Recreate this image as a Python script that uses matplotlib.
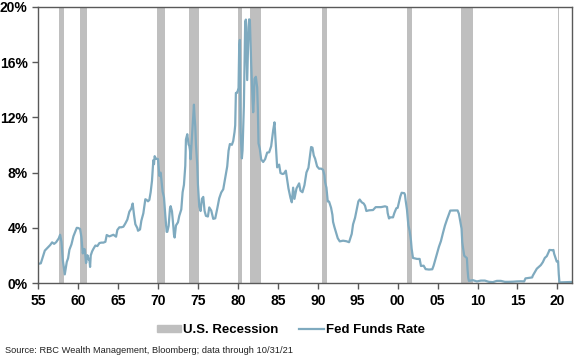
import matplotlib.pyplot as plt
import matplotlib.patches as mpatches
import matplotlib.lines as mlines
import pandas as pd

# Fed funds rate (month, % level)
months = [
    "1954-07", "1955-01", "1955-05", "1955-08", "1955-11", "1956-01", "1956-04", "1956-07", "1956-10",
    "1957-01", "1957-04", "1957-08", "1957-10", "1957-12", "1958-02", "1958-05", "1958-06", "1958-08",
    "1958-10", "1958-12", "1959-03", "1959-06", "1959-09", "1959-11", "1960-01", "1960-04", "1960-06",
    "1960-08", "1960-10", "1960-11", "1960-12", "1961-01", "1961-03", "1961-05", "1961-06", "1961-07",
    "1961-08", "1961-10", "1961-12", "1962-03", "1962-06", "1962-09", "1962-12", "1963-03", "1963-06",
    "1963-08", "1963-12", "1964-06", "1964-10", "1964-12", "1965-03", "1965-06", "1965-09", "1965-12",
    "1966-03", "1966-06", "1966-09", "1966-11", "1967-01", "1967-03", "1967-06", "1967-07", "1967-10",
    "1967-12", "1968-03", "1968-06", "1968-08", "1968-10", "1968-12", "1969-02", "1969-04", "1969-06",
    "1969-07", "1969-08", "1969-10", "1970-01", "1970-03", "1970-05", "1970-08", "1970-10", "1970-12",
    "1971-02", "1971-03", "1971-05", "1971-07", "1971-08", "1971-10", "1971-12", "1972-01", "1972-02",
    "1972-04", "1972-07", "1972-09", "1972-12", "1973-02", "1973-04", "1973-06", "1973-07", "1973-09",
    "1973-11", "1973-12", "1974-01", "1974-02", "1974-04", "1974-05", "1974-07", "1974-08", "1974-09",
    "1974-10", "1974-12", "1975-01", "1975-03", "1975-05", "1975-07", "1975-09", "1975-11", "1976-01",
    "1976-04", "1976-06", "1976-09", "1976-12", "1977-03", "1977-06", "1977-09", "1977-12", "1978-03",
    "1978-06", "1978-09", "1978-11", "1979-01", "1979-04", "1979-06", "1979-08", "1979-09", "1979-10",
    "1979-12", "1980-02", "1980-03", "1980-04", "1980-05", "1980-07", "1980-08", "1980-10", "1980-12",
    "1981-01", "1981-03", "1981-05", "1981-06", "1981-07", "1981-09", "1981-11", "1981-12", "1982-01",
    "1982-02", "1982-04", "1982-06", "1982-07", "1982-08", "1982-10", "1982-12", "1983-03", "1983-06",
    "1983-09", "1983-12", "1984-03", "1984-06", "1984-08", "1984-10", "1984-12", "1985-03", "1985-05",
    "1985-08", "1985-10", "1986-01", "1986-03", "1986-05", "1986-08", "1986-10", "1986-12", "1987-02",
    "1987-05", "1987-09", "1987-11", "1988-02", "1988-05", "1988-08", "1988-11", "1989-01", "1989-03",
    "1989-05", "1989-07", "1989-09", "1989-12", "1990-03", "1990-06", "1990-09", "1990-11", "1990-12",
    "1991-02", "1991-04", "1991-06", "1991-09", "1991-11", "1991-12", "1992-02", "1992-04", "1992-07",
    "1992-10", "1993-03", "1993-08", "1993-12", "1994-02", "1994-04", "1994-06", "1994-09", "1994-12",
    "1995-02", "1995-04", "1995-07", "1995-10", "1995-12", "1996-02", "1996-06", "1996-12", "1997-04",
    "1997-12", "1998-06", "1998-09", "1998-10", "1998-12", "1999-02", "1999-06", "1999-08", "1999-11",
    "2000-01", "2000-03", "2000-05", "2000-07", "2000-11", "2000-12", "2001-01", "2001-03", "2001-05",
    "2001-07", "2001-09", "2001-10", "2001-12", "2002-06", "2002-10", "2002-12", "2003-04", "2003-07",
    "2003-12", "2004-05", "2004-07", "2004-09", "2004-12", "2005-03", "2005-06", "2005-09", "2005-12",
    "2006-03", "2006-06", "2006-08", "2007-02", "2007-07", "2007-09", "2007-11", "2007-12", "2008-01",
    "2008-02", "2008-03", "2008-05", "2008-09", "2008-10", "2008-11", "2008-12", "2009-06", "2009-12",
    "2010-06", "2010-12", "2011-06", "2011-12", "2012-06", "2012-12", "2013-06", "2013-12", "2014-06",
    "2014-12", "2015-06", "2015-11", "2015-12", "2016-01", "2016-11", "2016-12", "2017-03", "2017-06",
    "2017-12", "2018-03", "2018-06", "2018-09", "2018-12", "2019-01", "2019-06", "2019-07", "2019-08",
    "2019-10", "2019-12", "2020-02", "2020-03", "2020-04", "2021-10",
]
fed_funds = [
    0.80, 1.39, 1.43, 1.90, 2.35, 2.45, 2.60, 2.75, 2.95,
    2.84, 2.96, 3.24, 3.50, 2.98, 1.67, 0.63, 0.93, 1.53,
    1.80, 2.42, 2.80, 3.39, 3.76, 4.00, 3.99, 3.92, 3.32,
    2.15, 2.47, 2.44, 1.98, 1.45, 2.02, 1.71, 1.73, 1.17,
    2.00, 2.29, 2.48, 2.72, 2.68, 2.90, 2.93, 2.93, 2.99,
    3.48, 3.38, 3.50, 3.36, 3.85, 4.04, 4.04, 4.08, 4.32,
    4.60, 5.17, 5.40, 5.76, 4.94, 4.26, 3.98, 3.79, 3.88,
    4.51, 5.05, 6.07, 6.02, 5.92, 6.02, 6.58, 7.41, 8.90,
    8.61, 9.19, 9.00, 8.98, 7.76, 8.00, 6.62, 6.20, 4.90,
    3.71, 3.71, 4.14, 5.40, 5.57, 5.20, 4.14, 3.51, 3.30,
    4.17, 4.40, 4.87, 5.33, 6.58, 7.12, 8.49, 10.40, 10.78,
    10.03, 9.95, 9.65, 8.97, 10.51, 11.31, 12.92, 12.01, 11.34,
    10.06, 8.53, 7.13, 5.54, 5.22, 6.10, 6.24, 5.22, 4.87,
    4.82, 5.48, 5.25, 4.65, 4.69, 5.39, 6.14, 6.56, 6.79,
    7.60, 8.45, 9.58, 10.07, 10.01, 10.29, 10.94, 11.43, 13.77,
    13.78, 14.13, 17.19, 17.61, 10.98, 9.03, 9.61, 12.81, 18.90,
    19.08, 14.70, 18.52, 19.10, 19.04, 15.87, 13.31, 12.37, 13.22,
    14.78, 14.94, 14.15, 12.59, 10.12, 9.71, 8.95, 8.77, 8.98,
    9.45, 9.47, 9.91, 11.06, 11.64, 9.99, 8.38, 8.58, 7.97,
    7.90, 7.92, 8.14, 7.48, 6.85, 6.17, 5.85, 6.91, 6.10,
    6.85, 7.22, 6.69, 6.58, 7.09, 8.01, 8.35, 9.12, 9.85,
    9.81, 9.24, 9.01, 8.45, 8.28, 8.29, 8.20, 7.81, 7.31,
    6.91, 5.91, 5.90, 5.45, 4.94, 4.43, 4.06, 3.73, 3.25,
    3.02, 3.07, 3.03, 2.96, 3.25, 3.56, 4.25, 4.73, 5.45,
    5.92, 6.05, 5.85, 5.76, 5.60, 5.22, 5.27, 5.29, 5.50,
    5.50, 5.56, 5.51, 5.07, 4.68, 4.76, 4.76, 5.07, 5.42,
    5.45, 5.85, 6.27, 6.54, 6.51, 6.40, 5.98, 5.31, 4.21,
    3.77, 3.07, 2.49, 1.82, 1.75, 1.75, 1.24, 1.26, 1.01,
    0.98, 1.00, 1.26, 1.61, 2.16, 2.63, 3.04, 3.62, 4.16,
    4.59, 4.99, 5.25, 5.26, 5.26, 5.02, 4.49, 4.24, 3.94,
    2.98, 2.61, 1.98, 1.81, 0.97, 0.39, 0.16, 0.21, 0.12,
    0.18, 0.18, 0.09, 0.07, 0.16, 0.16, 0.09, 0.09, 0.10,
    0.12, 0.13, 0.12, 0.24, 0.34, 0.41, 0.54, 0.79, 1.04,
    1.30, 1.51, 1.82, 1.95, 2.27, 2.40, 2.38, 2.40, 2.13,
    1.83, 1.55, 1.58, 0.65, 0.05, 0.08,
]

# NBER recessions (start, end)
recessions = [
    ("1957-08", "1958-04"), ("1960-04", "1961-02"), ("1969-12", "1970-11"),
    ("1973-11", "1975-03"), ("1980-01", "1980-07"), ("1981-07", "1982-11"),
    ("1990-07", "1991-03"), ("2001-03", "2001-11"), ("2007-12", "2009-06"),
    ("2020-02", "2020-04"),
]

tick_years = list(range(1955, 2021, 5))
tick_labels = [f"{y % 100:02d}" for y in tick_years]


def to_year(s):
    d = pd.Timestamp(s)
    return d.year + (d.month - 1) / 12


line_color = "#7FAABF"
rec_color = "#BFBFBF"
spine_color = "#595959"
plt.rcParams["font.family"] = ["Liberation Sans Narrow", "Liberation Sans", "DejaVu Sans"]

fig = plt.figure(figsize=(5.78, 3.62), dpi=100)
ax = fig.add_axes([0.066, 0.218, 0.924, 0.763])

for start, end in recessions:
    ax.axvspan(to_year(start), to_year(end), color=rec_color, lw=0, zorder=1)

x = [to_year(m) for m in months]
ax.plot(x, fed_funds, color=line_color, lw=1.6, zorder=2)

ax.set_xlim(1955, 2021.85)
ax.set_ylim(0, 20)
ax.set_yticks(range(0, 21, 4))
ax.set_yticklabels([f"{v}%" for v in range(0, 21, 4)])
ax.set_xticks(tick_years)
ax.set_xticklabels(tick_labels)

for sp in ax.spines.values():
    sp.set_color(spine_color)
    sp.set_linewidth(1.0)
ax.tick_params(axis="both", colors=spine_color, length=4, width=1.0,
               labelcolor="black", labelsize=10)
for lab in ax.get_xticklabels() + ax.get_yticklabels():
    lab.set_fontweight("bold")

handles = [
    mpatches.Patch(color=rec_color, label="U.S. Recession"),
    mlines.Line2D([], [], color=line_color, lw=1.6, label="Fed Funds Rate"),
]
fig.legend(handles=handles, loc="center", bbox_to_anchor=(0.503, 0.088), ncol=2,
           frameon=False,
           prop={"family": ["Liberation Sans", "DejaVu Sans"], "weight": "bold", "size": 9.5},
           handlelength=1.85, handleheight=0.55, handletextpad=0.15, columnspacing=1.6)

fig.text(0.009, 0.025, "Source: RBC Wealth Management, Bloomberg; data through 10/31/21",
         fontsize=6.7, family=["Liberation Sans", "DejaVu Sans"], color="#222222")

fig.savefig("out.png", dpi=100)
